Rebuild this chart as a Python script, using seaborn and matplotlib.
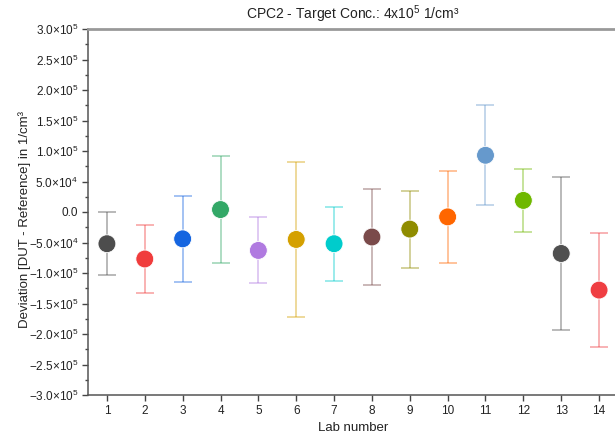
import matplotlib
matplotlib.use("Agg")
import matplotlib.pyplot as plt
import matplotlib.ticker as mticker
import numpy as np
import pandas as pd
import seaborn as sns

# Deviation of each lab's device from the reference, with uncertainty
labs = [1, 2, 3, 4, 5, 6, 7, 8, 9, 10, 11, 12, 13, 14]
deviation = [-0.52e5, -0.77e5, -0.44e5, 0.04e5, -0.63e5, -0.45e5, -0.52e5,
             -0.41e5, -0.28e5, -0.08e5, 0.93e5, 0.19e5, -0.68e5, -1.28e5]
uncertainty = [0.52e5, 0.56e5, 0.70e5, 0.88e5, 0.54e5, 1.27e5, 0.61e5,
               0.79e5, 0.63e5, 0.75e5, 0.82e5, 0.51e5, 1.25e5, 0.93e5]
lab_colors = ["#4d4d4d", "#f03c3c", "#1565e0", "#33a867", "#b07ae0", "#d4a000",
              "#00cccc", "#7a4a4a", "#8f8c00", "#ff6600", "#6699cc", "#6fb800",
              "#505050", "#ef3e42"]
y_ticks = [-3e5, -2.5e5, -2e5, -1.5e5, -1e5, -0.5e5, 0, 0.5e5, 1e5, 1.5e5, 2e5, 2.5e5, 3e5]

sns.set_theme(style="white")
plt.rcParams["font.family"] = ["Liberation Sans", "DejaVu Sans"]
plt.rcParams["mathtext.fontset"] = "custom"
plt.rcParams["mathtext.rm"] = "Liberation Sans"
plt.rcParams["mathtext.it"] = "Liberation Sans"
plt.rcParams["mathtext.bf"] = "Liberation Sans:bold"
plt.rcParams["mathtext.default"] = "regular"

df = pd.DataFrame({"lab": labs, "dev": deviation, "err": uncertainty})

fig = plt.figure(figsize=(6.15, 4.37), dpi=100)
ax = fig.add_axes([88 / 615, 42 / 437, 530 / 615, 366 / 437])

for x, y, e, c in zip(labs, deviation, uncertainty, lab_colors):
    ax.errorbar(x, y, yerr=e, fmt="none", ecolor=c, alpha=0.5,
                elinewidth=1.1, capsize=6.5, capthick=1.1, zorder=2)

sns.scatterplot(data=df, x="lab", y="dev", hue="lab", palette=lab_colors,
                s=165, edgecolor="white", linewidth=0.6, legend=False,
                ax=ax, zorder=3)


def sci_label(v, pos):
    if abs(v) < 1e-9:
        return "0.0"
    sign = "\u2212" if v < 0 else ""
    v = abs(v)
    exp = int(np.floor(np.log10(v)))
    mant = v / 10 ** exp
    return f"{sign}{mant:.1f}\u00d710$^{{{exp}}}$"


ax.set_xlim(0.5, 14.5)
ax.set_ylim(-3e5, 3e5)
ax.set_xticks(labs)
ax.set_yticks(y_ticks)
ax.yaxis.set_major_formatter(mticker.FuncFormatter(sci_label))
ax.yaxis.set_minor_locator(mticker.MultipleLocator(2.5e4))

ax.tick_params(axis="both", which="major", direction="out", length=4, width=1,
               color="#444444", labelsize=8.5, labelcolor="#222222", pad=3)
ax.tick_params(axis="y", which="minor", direction="out", length=2.5, width=1,
               color="#444444")
ax.tick_params(axis="x", bottom=True)
ax.tick_params(axis="y", left=True, which="both")

for side in ["left", "bottom"]:
    ax.spines[side].set_color("#555555")
    ax.spines[side].set_linewidth(1.1)
ax.spines["top"].set_color("#999999")
ax.spines["top"].set_linewidth(2.0)
ax.spines["right"].set_visible(False)

ax.set_xlabel("Lab number", fontsize=9.5, color="#222222", labelpad=4)
ax.set_ylabel("Deviation [DUT - Reference] in 1/cm\u00b3", fontsize=9.5,
              color="#222222")
ax.yaxis.set_label_coords(-0.108, 0.48)
fig.text(353 / 615, 1 - 14 / 437, "CPC2 - Target Conc.: 4x10$^{5}$ 1/cm\u00b3",
         ha="center", va="center", fontsize=10, color="#222222")

fig.savefig("out.png", dpi=100)
